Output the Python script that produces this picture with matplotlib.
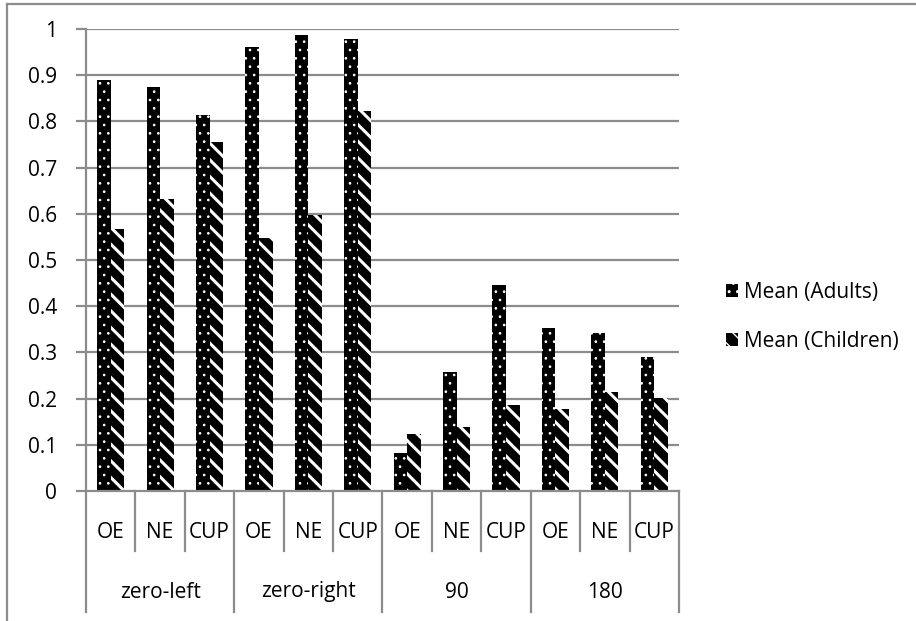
import matplotlib
matplotlib.use("Agg")
import matplotlib.pyplot as plt
from matplotlib.lines import Line2D
import numpy as np

groups = ["zero-left", "zero-right", "90", "180"]
conditions = ["OE", "NE", "CUP"]
adults = [0.889, 0.874, 0.814, 0.962, 0.986, 0.978, 0.082, 0.257, 0.445, 0.353, 0.342, 0.290]
children = [0.567, 0.631, 0.755, 0.547, 0.598, 0.822, 0.123, 0.138, 0.186, 0.177, 0.214, 0.201]
yticks = [0, 0.1, 0.2, 0.3, 0.4, 0.5, 0.6, 0.7, 0.8, 0.9, 1]
ytick_labels = ["0", "0.1", "0.2", "0.3", "0.4", "0.5", "0.6", "0.7", "0.8", "0.9", "1"]

plt.rcParams['font.family'] = ['Open Sans', 'DejaVu Sans']
GRAY = '#8c8c8c'
FS = 15

W, H = 916, 621
fig = plt.figure(figsize=(W / 100, H / 100), dpi=100)
ax = fig.add_axes([86 / W, 1 - 491 / H, 593 / W, 462 / H])

x = np.arange(len(adults))
bw = 0.275
# black bars with small white dots
with plt.rc_context({'hatch.linewidth': 0.7}):
    ax.bar(x - bw / 2, adults, bw, color='black', edgecolor='white', linewidth=0,
           hatch='..', label='Mean (Adults)', zorder=3)
# black bars with wide white diagonal stripes
with plt.rc_context({'hatch.linewidth': 2.2}):
    ax.bar(x + bw / 2, children, bw, color='black', edgecolor='white', linewidth=0,
           hatch='\\\\', label='Mean (Children)', zorder=3)

ax.set_xlim(-0.5, len(adults) - 0.5)
ax.set_ylim(0, 1)
ax.set_yticks(yticks)
ax.set_yticklabels(ytick_labels, fontsize=FS)
ax.set_xticks([])
for y in yticks[1:]:
    ax.axhline(y, color=GRAY, linewidth=1.6, zorder=1)
for s in ['top', 'right', 'bottom']:
    ax.spines[s].set_visible(False)
ax.spines['left'].set_color(GRAY)
ax.spines['left'].set_linewidth(1.6)
ax.tick_params(axis='y', length=7, width=1.6, color=GRAY, pad=14)

# category axis: baseline, separators and two rows of labels
ax.plot([-0.5, len(adults) - 0.5], [0, 0], color=GRAY, linewidth=1.6,
        clip_on=False, zorder=4)
tr = ax.get_xaxis_transform()
sub_depth = -60 / 462
grp_depth = -121 / 462
for i in range(len(adults) + 1):
    depth = grp_depth if i % 3 == 0 else sub_depth
    ax.plot([i - 0.5, i - 0.5], [0, depth], color=GRAY, linewidth=1.6,
            transform=tr, clip_on=False)
for i in range(len(adults)):
    ax.text(i, -41 / 462, conditions[i % 3], transform=tr, ha='center',
            va='center', fontsize=FS)
for g, name in enumerate(groups):
    ax.text(g * 3 + 1, -101 / 462, name, transform=tr, ha='center',
            va='center', fontsize=FS)

ax.legend(loc='center left', bbox_to_anchor=(716 / W, 1 - 317 / H),
          bbox_transform=fig.transFigure, frameon=False, fontsize=FS,
          handlelength=0.55, handleheight=0.55, handletextpad=0.3,
          labelspacing=1.35, borderpad=0)

# chart area frame
fig.add_artist(Line2D([7 / W, 7 / W], [0, 1 - 4 / H], color=GRAY,
                      linewidth=1.6, transform=fig.transFigure))
fig.add_artist(Line2D([7 / W, 1], [1 - 4 / H, 1 - 4 / H], color=GRAY,
                      linewidth=1.6, transform=fig.transFigure))

fig.savefig("out.png", dpi=100)
